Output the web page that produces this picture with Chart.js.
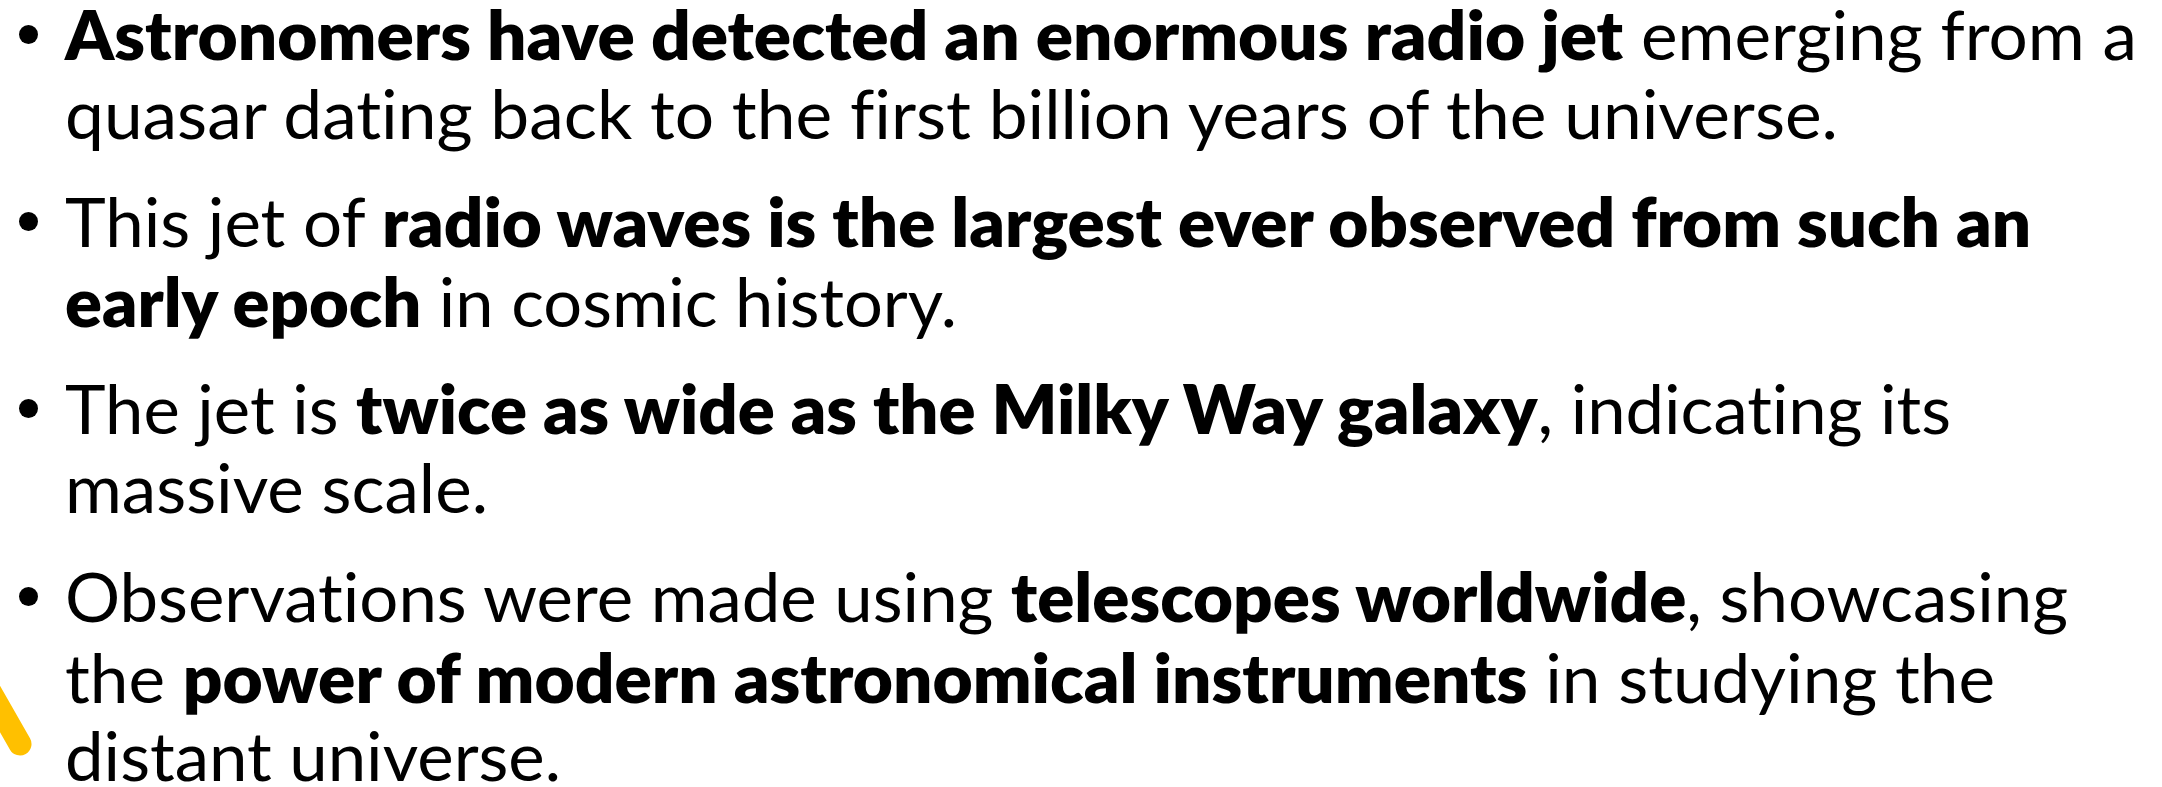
<!DOCTYPE html>
<html>
<head>
<meta charset="utf-8">
<script src="https://cdn.jsdelivr.net/npm/chart.js@4/dist/chart.umd.min.js"></script>
<style>
  html, body { margin: 0; padding: 0; background: #ffffff; width: 2162px; height: 787px; overflow: hidden; }
  #deco { position: absolute; left: 0; top: 0; }
  .line { position: absolute; left: 65px; white-space: nowrap; font-family: Lato, "Open Sans", sans-serif;
          font-size: 68px; line-height: 1; color: #000; transform-origin: 0 0;
          font-variant-ligatures: none; font-feature-settings: "liga" 0, "clig" 0; }
  .line b { font-weight: 800; }
  .dot { position: absolute; width: 19px; height: 19px; border-radius: 50%; background: #000; }
</style>
</head>
<body>
<canvas id="deco" width="2162" height="787"></canvas>
<div id="text"></div>
<script>
// ---- content: each line is a list of [text, bold] segments ----
const bullet1 = [
  [["Astronomers have detected an enormous radio jet", true], [" emerging from a", false]],
  [["quasar dating back to the first billion years of the universe.", false]]
];
const bullet2 = [
  [["This jet of ", false], ["radio waves is the largest ever observed from such an", true]],
  [["early epoch", true], [" in cosmic history.", false]]
];
const bullet3 = [
  [["The jet is ", false], ["twice as wide as the Milky Way galaxy", true], [", indicating its", false]],
  [["massive scale.", false]]
];
const bullet4 = [
  [["Observations were made using ", false], ["telescopes worldwide", true], [", showcasing", false]],
  [["the ", false], ["power of modern astronomical instruments", true], [" in studying the", false]],
  [["distant universe.", false]]
];
const bullets = [bullet1, bullet2, bullet3, bullet4];

// baselines and right edges of each printed line
const lineBaselines = [60, 139, 247, 327, 434, 513, 622, 703, 781];
const lineRightEdges = [2137, 1838, 2031, 957, 1951, 488, 2068, 1995, 561];

// decorative yellow stroke at the lower left
const strokeX = [-28, 20];
const strokeY = [660, 744];

// ---- decorative stroke drawn with Chart.js ----
new Chart(document.getElementById('deco'), {
  type: 'line',
  data: {
    datasets: [{
      data: strokeX.map((x, i) => ({ x: x, y: strokeY[i] })),
      borderColor: '#FFC000',
      borderWidth: 23,
      borderCapStyle: 'round',
      pointRadius: 0,
      fill: false,
      clip: false
    }]
  },
  options: {
    responsive: false,
    animation: false,
    layout: { padding: 0 },
    plugins: { legend: { display: false }, tooltip: { enabled: false } },
    scales: {
      x: { type: 'linear', min: 0, max: 2162, display: false },
      y: { type: 'linear', min: 0, max: 787, reverse: true, display: false }
    }
  }
});

// ---- bullet text ----
function build() {
  const host = document.getElementById('text');
  const textLeft = 65;
  let li = 0;
  bullets.forEach(b => {
    b.forEach((segs, k) => {
      const div = document.createElement('div');
      div.className = 'line';
      segs.forEach(([t, bold]) => {
        const el = document.createElement(bold ? 'b' : 'span');
        el.textContent = t;
        div.appendChild(el);
      });
      const mark = document.createElement('span');
      mark.style.cssText = 'display:inline-block;width:0;height:0;vertical-align:baseline';
      div.appendChild(mark);
      host.appendChild(div);
      const base = mark.offsetTop;
      const w = div.getBoundingClientRect().width;
      const s = (lineRightEdges[li] - textLeft) / w;
      div.style.top = (lineBaselines[li] - base) + 'px';
      div.style.transform = 'scaleX(' + s + ')';
      if (k === 0) {
        const d = document.createElement('div');
        d.className = 'dot';
        d.style.left = (28 - 9.5) + 'px';
        d.style.top = (lineBaselines[li] - 26 - 9.5) + 'px';
        host.appendChild(d);
      }
      li++;
    });
  });
}
if (document.fonts && document.fonts.ready) { document.fonts.ready.then(build); } else { build(); }
</script>
</body>
</html>
